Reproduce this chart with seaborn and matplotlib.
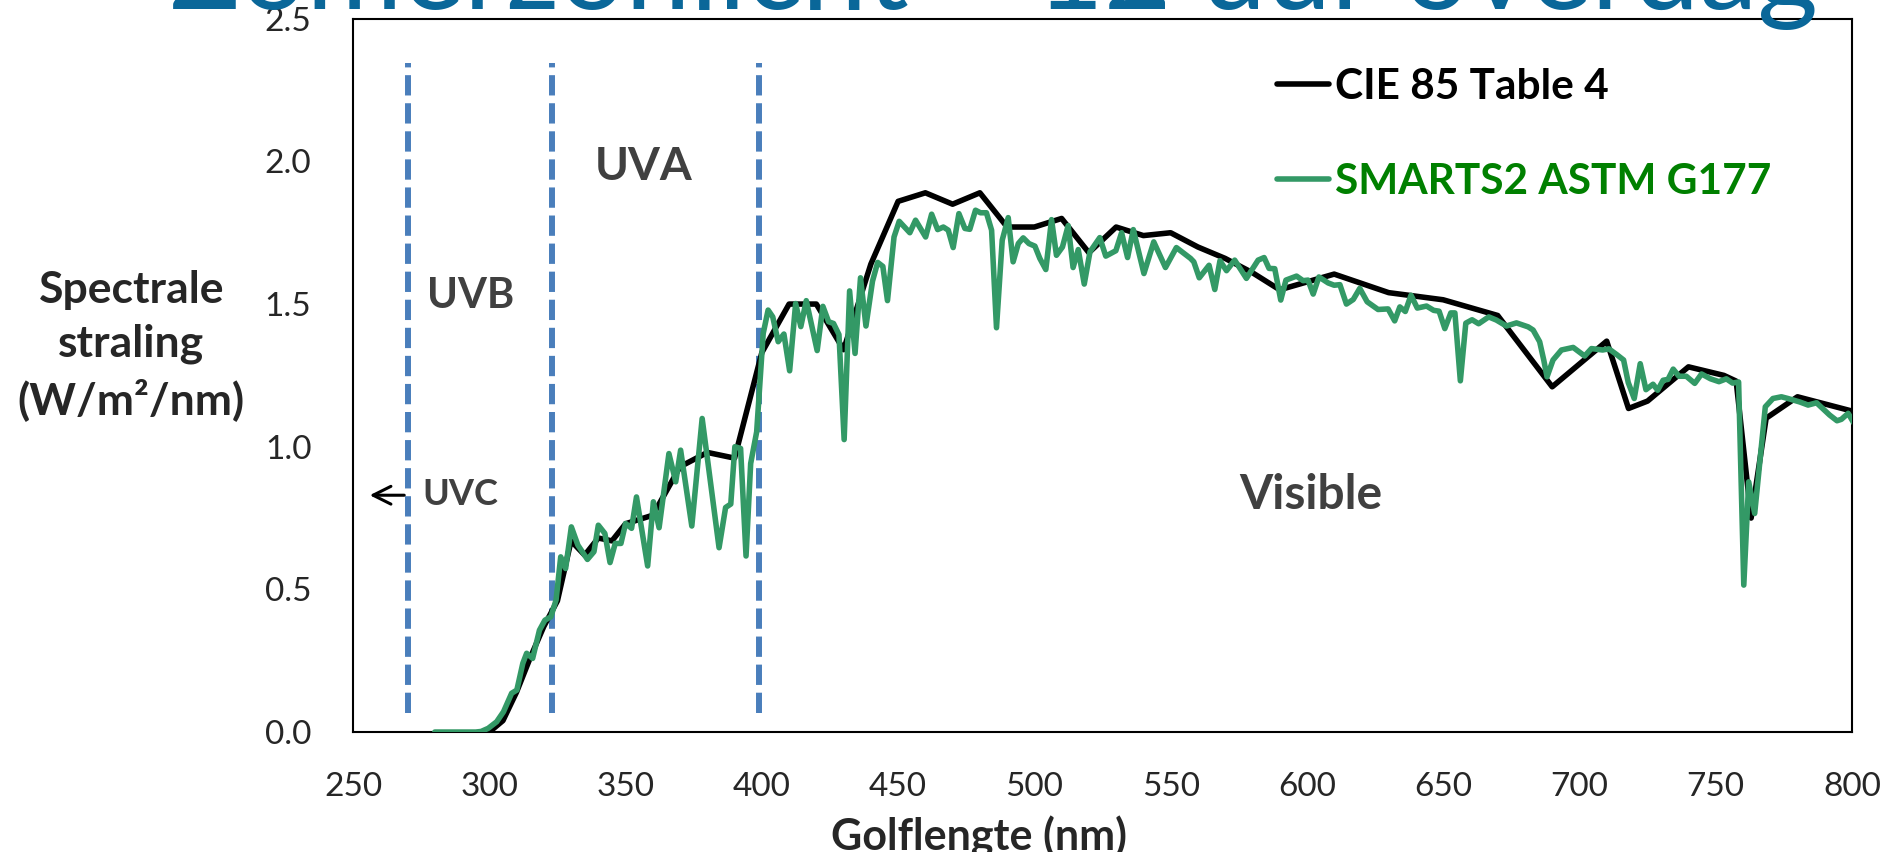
import pandas as pd
import matplotlib
matplotlib.use("Agg")
import matplotlib.pyplot as plt
import seaborn as sns

# CIE 85 Table 4 (zwarte lijn)
cie_nm = [300, 305, 310, 315, 320, 325, 330, 335, 340, 345, 350, 360, 370, 380, 390,
          400, 410, 420, 430, 440, 450, 460, 470, 480, 490, 500, 510, 520, 530, 540,
          550, 560, 570, 580, 590, 610, 630, 650, 670, 690, 710, 718, 725, 740, 753,
          757.5, 763, 768.5, 780, 800]
cie_val = [0.0, 0.04, 0.14, 0.26, 0.37, 0.46, 0.67, 0.62, 0.68, 0.67, 0.73, 0.76, 0.93, 0.98, 0.96,
           1.33, 1.50, 1.50, 1.34, 1.64, 1.86, 1.89, 1.85, 1.89, 1.77, 1.77, 1.80, 1.68, 1.77, 1.74,
           1.75, 1.70, 1.66, 1.61, 1.55, 1.605, 1.54, 1.515, 1.46, 1.21, 1.37, 1.134, 1.16, 1.28, 1.25,
           1.23, 0.75, 1.10, 1.175, 1.125]

# SMARTS2 ASTM G177 (groene lijn)
smarts_nm = [280, 285, 290, 295, 297, 299.6, 302.7, 305.2, 308.2, 310.1, 312.3, 313.7, 315.9, 318.4,
             320.4, 322.6, 324.5, 326.2, 328.0, 330.1, 332.5, 336.0, 338.4, 340.0, 342.4, 344.3,
             346.2, 348.3, 350.0, 352.2, 354.0, 358.1, 360.2, 362.3, 365.9, 368.4, 370.2, 374.3,
             378.1, 384.3, 386.7, 388.6, 390.1, 392.2, 394.2, 395.9, 398.1, 400.5, 402.3, 404.0,
             406.0, 408.1, 410.2, 412.4, 414.3, 416.3, 420.3, 422.4, 424.5, 426.3, 428.3, 430.2,
             432.2, 434.2, 436.2, 438.2, 440.6, 442.5, 444.4, 446.1, 448.5, 450.4, 454.3, 456.4,
             460.1, 462.3, 464.5, 466.6, 468.4, 470.2, 472.3, 474.5, 476.3, 478.4, 480.2, 482.4,
             484.3, 486.1, 488.2, 490.4, 492.2, 494.1, 495.9, 498.0, 500.2, 502.0, 504.2, 506.3,
             508.1, 510.3, 512.4, 514.2, 516.1, 518.3, 520.4, 524.0, 526.2, 529.9, 532.0, 534.2,
             536.3, 540.2, 543.8, 548.1, 552.1, 557.3, 558.5, 560.5, 564.1, 566.2, 568.1, 570.5,
             573.5, 577.8, 582.1, 584.3, 586.1, 588.2, 590.4, 592.3, 596.2, 598.6, 600.4, 602.3,
             604.4, 607.8, 610.0, 612.1, 614.5, 617.0, 619.4, 622.1, 626.1, 629.8, 632.2, 634.1,
             636.1, 638.2, 640.5, 643.9, 646.5, 648.5, 650.6, 652.8, 654.3, 656.3, 658.3, 660.6,
             663.0, 666.7, 669.5, 673.2, 676.9, 681.2, 683.0, 685.4, 686.9, 688.1, 690.3, 693.4,
             697.7, 701.9, 704.4, 708.5, 710.8, 713.8, 716.2, 717.9, 720.1, 722.3, 724.4, 727.0,
             728.7, 730.7, 732.5, 734.4, 736.5, 739.2, 742.3, 744.8, 748.1, 751.2, 753.9, 756.2,
             758.4, 760.3, 762.1, 764.3, 768.2, 771.0, 774.1, 776.5, 780.8, 783.9, 787.0, 791.8,
             794.5, 796.1, 798.6, 800.6]
smarts_val = [0.0, 0.0, 0.0, 0.0, 0.002, 0.013, 0.036, 0.071, 0.136, 0.147, 0.241, 0.276, 0.258, 0.357,
              0.392, 0.404, 0.463, 0.614, 0.573, 0.719, 0.655, 0.605, 0.632, 0.725, 0.696, 0.594,
              0.661, 0.661, 0.731, 0.714, 0.824, 0.582, 0.807, 0.716, 0.976, 0.877, 0.988, 0.722,
              1.099, 0.646, 0.787, 0.799, 1.000, 0.994, 0.617, 0.941, 1.052, 1.397, 1.479, 1.455,
              1.368, 1.395, 1.266, 1.502, 1.421, 1.512, 1.337, 1.492, 1.438, 1.432, 1.393, 1.025,
              1.546, 1.327, 1.592, 1.423, 1.580, 1.646, 1.632, 1.512, 1.735, 1.790, 1.750, 1.794,
              1.735, 1.815, 1.761, 1.770, 1.759, 1.698, 1.817, 1.765, 1.762, 1.829, 1.820, 1.820,
              1.759, 1.417, 1.724, 1.803, 1.648, 1.712, 1.732, 1.712, 1.703, 1.660, 1.621, 1.796,
              1.671, 1.700, 1.775, 1.628, 1.691, 1.570, 1.683, 1.733, 1.668, 1.687, 1.750, 1.663,
              1.761, 1.607, 1.718, 1.628, 1.698, 1.660, 1.648, 1.592, 1.636, 1.551, 1.652, 1.617,
              1.654, 1.590, 1.654, 1.663, 1.625, 1.624, 1.514, 1.584, 1.598, 1.582, 1.584, 1.535,
              1.595, 1.574, 1.566, 1.568, 1.500, 1.516, 1.555, 1.508, 1.481, 1.483, 1.441, 1.490,
              1.474, 1.531, 1.486, 1.493, 1.478, 1.475, 1.414, 1.469, 1.469, 1.231, 1.433, 1.445,
              1.431, 1.455, 1.444, 1.423, 1.434, 1.420, 1.409, 1.368, 1.304, 1.245, 1.304, 1.339,
              1.348, 1.318, 1.344, 1.339, 1.343, 1.322, 1.304, 1.225, 1.169, 1.291, 1.200, 1.219,
              1.198, 1.233, 1.236, 1.272, 1.247, 1.247, 1.222, 1.255, 1.238, 1.228, 1.238, 1.223,
              1.227, 0.515, 0.877, 0.766, 1.140, 1.169, 1.175, 1.169, 1.157, 1.146, 1.154, 1.111,
              1.091, 1.096, 1.117, 1.084]

# grenzen UVC/UVB, UVB/UVA, UVA/zichtbaar
band_edges = [270, 323, 399]
x_ticks = [250, 300, 350, 400, 450, 500, 550, 600, 650, 700, 750, 800]
y_ticks = [0.0, 0.5, 1.0, 1.5, 2.0, 2.5]

sns.set_style("white")
plt.rcParams["font.family"] = ["Lato", "DejaVu Sans"]

df_cie = pd.DataFrame({"nm": cie_nm, "val": cie_val})
df_sm = pd.DataFrame({"nm": smarts_nm, "val": smarts_val})

fig = plt.figure(figsize=(18.95, 8.52), dpi=100)
ax = fig.add_axes([0.1863, 0.1408, 0.791, 0.8372])

# titel van de dia, bovenaan afgesneden
fig.text(0.5245, 1 - 9 / 852, "Zomerzonlicht – 12 uur overdag", ha="center", va="baseline",
         fontsize=84, color="#0A6799")

for x in band_edges:
    ax.plot([x, x], [0.067, 2.344], color="#4A7EBB", lw=4.3, dashes=(3.4, 1.3), zorder=1)

sns.lineplot(data=df_cie, x="nm", y="val", color="black", lw=4.0, label="CIE 85 Table 4",
             estimator=None, ax=ax, zorder=3)
sns.lineplot(data=df_sm, x="nm", y="val", color="#339966", lw=4.0, label="SMARTS2 ASTM G177",
             estimator=None, ax=ax, zorder=4)

ax.set_xlim(250, 800)
ax.set_ylim(0, 2.5)
ax.set_xticks(x_ticks)
ax.set_yticks(y_ticks)
ax.set_yticklabels([f"{v:.1f}" for v in y_ticks])
ax.tick_params(axis="both", direction="out", length=9, width=1.2, color="#868686", labelsize=24)
ax.tick_params(axis="y", pad=21)
ax.tick_params(axis="x", pad=20)
for s in ax.spines.values():
    s.set_color("black")
    s.set_linewidth(1.5)

ax.set_xlabel("Golflengte (nm)", fontsize=31, fontweight="bold")
ax.xaxis.set_label_coords(0.4176, -0.118)
ax.set_ylabel("Spectrale\nstraling\n(W/m²/nm)", fontsize=32, fontweight="bold", rotation=0,
              ha="center", va="center", linespacing=1.4)
ax.yaxis.set_label_coords(-0.148, 0.542)

# labels van de banden
txt = dict(fontweight="bold", color="#404040", ha="center", va="center")
ax.text(356.7, 1.98, "UVA", fontsize=33, **txt)
ax.text(293.3, 1.528, "UVB", fontsize=30, **txt)
ax.text(289.3, 0.834, "UVC", fontsize=26, **txt)
ax.text(601.4, 0.83, "Visible", fontsize=34.5, **txt)
ax.annotate("", xy=(255.1, 0.83), xytext=(269.8, 0.83),
            arrowprops=dict(arrowstyle="->", lw=2.2, color="black", mutation_scale=32))

leg = ax.legend(loc="upper left", bbox_to_anchor=(0.5907, 0.984), frameon=False, fontsize=30.5,
                handlelength=1.24, handletextpad=0.15, labelspacing=1.33)
for t, c in zip(leg.get_texts(), ["black", "#008000"]):
    t.set_color(c)
    t.set_fontweight("bold")

plt.savefig("out.png", dpi=100)
